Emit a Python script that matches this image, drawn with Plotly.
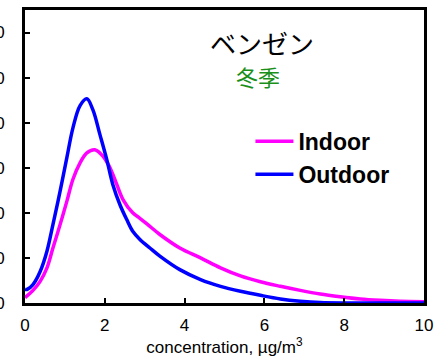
import plotly.graph_objects as go

# concentration (µg/m3) and frequency values
x_out = [0, 0.05, 0.2, 0.38, 0.55, 0.7, 0.88, 1.05, 1.2, 1.38, 1.55, 1.7, 1.88, 2.05, 2.2,
         2.38, 2.55, 2.7, 2.88, 3.13, 3.38, 3.88, 4.4, 4.9, 5.4, 5.9, 6.4, 6.9, 7.4, 8, 9, 10]
y_out = [3.0, 3.0, 4.1, 7.0, 11.5, 17.4, 24.8, 32.3, 38.8, 43.8, 45.3, 42.9, 37.3, 31.8, 26.3,
         21.8, 18.5, 15.9, 14.1, 12.2, 10.4, 7.4, 5.2, 3.7, 2.6, 1.7, 0.9, 0.4, 0.1, 0.0, 0.0, 0.0]

x_in = [0, 0.2, 0.38, 0.55, 0.7, 0.88, 1.05, 1.2, 1.38, 1.55, 1.75, 1.96, 2.13, 2.3, 2.46,
        2.7, 2.88, 3.13, 3.38, 3.88, 4.4, 4.9, 5.4, 5.9, 6.4, 6.9, 7.4, 7.9, 8.4, 8.9, 9.4, 10]
y_in = [1.2, 2.8, 4.8, 7.8, 12.2, 17.4, 22.6, 27.4, 31.1, 33.3, 34.0, 32.5, 30.0, 26.3, 22.9,
        20.0, 18.8, 17.0, 15.2, 12.2, 10.0, 7.8, 6.0, 4.7, 3.7, 2.8, 2.0, 1.4, 0.9, 0.6, 0.4, 0.3]

x_ticks = [0, 2, 4, 6, 8, 10]
y_ticks = [0, 10, 20, 30, 40, 50, 60]

series_names = ["Indoor", "Outdoor"]
title_main = "ベンゼン"
title_sub = "冬季"
x_title = "concentration, µg/m<sup>3</sup>"

font_lat = "Arial, 'Liberation Sans', sans-serif"
font_jp = "'Noto Sans CJK JP', sans-serif"

fig = go.Figure()
fig.add_trace(go.Scatter(x=x_in, y=y_in, mode="lines", name=series_names[0],
                         line=dict(color="#FF00FF", width=3.5, shape="spline", smoothing=1.0)))
fig.add_trace(go.Scatter(x=x_out, y=y_out, mode="lines", name=series_names[1],
                         line=dict(color="#0000FF", width=3.5, shape="spline", smoothing=1.0)))


def px_to_paper(px, py):
    return (px - 25) / 399, (303.5 - py) / 293.5


ax1, ay1 = px_to_paper(262, 43)
ax2, ay2 = px_to_paper(258, 76)

fig.update_layout(
    template="none",
    width=435, height=357,
    margin=dict(l=25, r=11, t=10, b=53.5, autoexpand=False),
    paper_bgcolor="white", plot_bgcolor="white",
    font=dict(family=font_lat, size=17, color="black"),
    showlegend=True,
    legend=dict(x=0.565, y=0.625, xanchor="left", yanchor="top",
                font=dict(family=font_lat, size=23, color="black", weight="bold"),
                bgcolor="rgba(0,0,0,0)", itemwidth=38, tracegroupgap=0,
                traceorder="normal"),
    annotations=[
        dict(text=title_main, x=ax1, y=ay1, xref="paper", yref="paper", showarrow=False,
             xanchor="center", yanchor="middle",
             font=dict(family=font_jp, size=26, color="black")),
        dict(text=title_sub, x=ax2, y=ay2, xref="paper", yref="paper", showarrow=False,
             xanchor="center", yanchor="middle",
             font=dict(family=font_jp, size=22, color="#1a8f1a")),
    ],
)

fig.update_xaxes(
    range=[0, 10], tickvals=x_ticks, ticks="inside", ticklen=5, tickwidth=2, tickcolor="black",
    showline=True, linewidth=3, linecolor="black", mirror=True, showgrid=False, zeroline=False,
    automargin=False, ticklabelstandoff=5,
    title=dict(text=x_title, font=dict(size=17), standoff=2),
)
fig.update_yaxes(
    range=[0, 65], tickvals=y_ticks, ticks="inside", ticklen=5, tickwidth=2, tickcolor="black",
    showline=True, linewidth=3, linecolor="black", mirror=True, showgrid=False, zeroline=False,
    automargin=False, ticklabelstandoff=14,
)

fig.write_html("out.html", config={"displayModeBar": False},
               post_script="document.body.style.margin='0px';")
